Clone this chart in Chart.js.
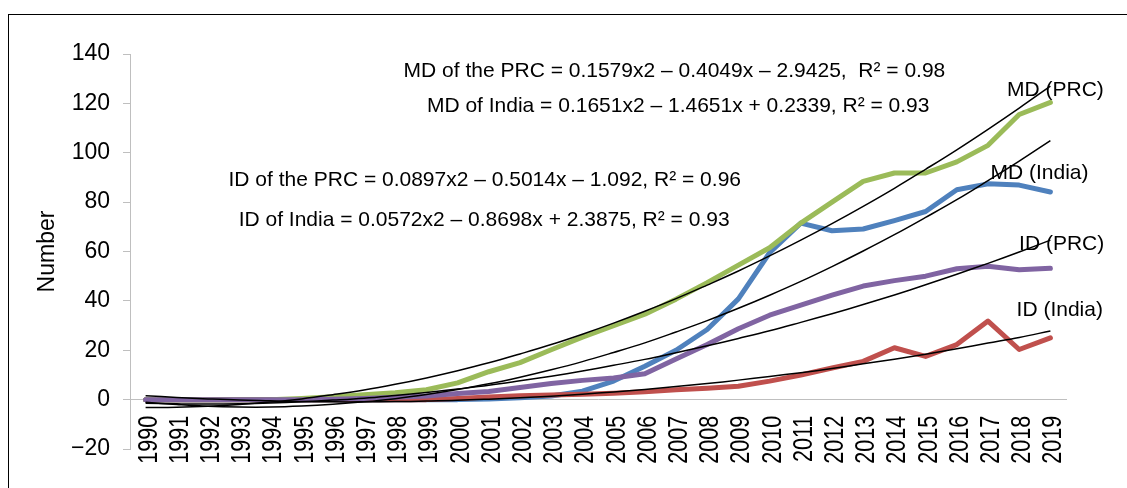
<!DOCTYPE html>
<html>
<head>
<meta charset="utf-8">
<script src="https://cdn.jsdelivr.net/npm/chart.js@4.4.1/dist/chart.umd.min.js"></script>
<style>
  html, body { margin: 0; padding: 0; background: #fff; }
  #frame { position: absolute; left: 8px; top: 14px; width: 1200px; height: 600px; border-top: 1px solid #000; border-left: 1px solid #000; }
  #chart { position: absolute; left: 0; top: 0; }
</style>
</head>
<body>
<div id="frame"></div>
<canvas id="chart" width="1127" height="488"></canvas>
<script>
const years = ["1990","1991","1992","1993","1994","1995","1996","1997","1998","1999",
  "2000","2001","2002","2003","2004","2005","2006","2007","2008","2009",
  "2010","2011","2012","2013","2014","2015","2016","2017","2018","2019"]

// observed series
const mdPrc = [0, 0, 0, 0, 0, 0.5, 1.2, 2, 2.8, 4, 6.8, 11.3, 15, 20.2, 25.3, 30, 34.6, 40.7, 47.4, 54.5,
  61.5, 71.5, 80, 88.4, 91.8, 91.8, 96.3, 103, 115.5, 120.4]
const mdIndia = [0, 0, 0, 0, 0, 0, 0, 0, 0, 0, 0, 0.3, 0.8, 1.5, 3.4, 7.5, 13.5, 20, 28.4, 40.8,
  59.5, 71.5, 68.4, 69.1, 72.5, 76.2, 85, 87.4, 86.9, 84.1]
const idPrc = [0, 0, 0, 0, 0, 0, 0.2, 0.5, 1, 1.5, 2.5, 3.3, 4.9, 6.5, 7.8, 8.8, 10.5, 16.5, 22.3, 28.7,
  34.2, 38.3, 42.3, 46, 48.2, 50, 53, 54, 52.6, 53.2]
const idIndia = [0, 0, 0, 0, 0, 0, 0, 0, 0, 0, 0.5, 1.1, 1.6, 1.9, 2.2, 2.6, 3.2, 4, 4.6, 5.4,
  7.5, 10, 12.8, 15.5, 21, 17.5, 22.3, 31.8, 20.3, 25]

// trendlines as drawn
const mdPrcTrend = [-3.2, -3.1, -2.7, -2.0, -1.0, 0.3, 2.0, 3.9, 6.2, 8.8, 11.7, 14.9, 18.5, 22.3, 26.5,
  31.0, 35.8, 40.9, 46.4, 52.1, 58.2, 64.6, 71.3, 78.3, 85.6, 93.3, 101.2, 109.5, 118.1, 127.0]
const mdIndiaTrend = [-1.1, -2.0, -2.7, -3.0, -3.0, -2.6, -1.9, -0.9, 0.4, 2.1, 4.1, 6.4, 9.1, 12.1, 15.4,
  19.1, 23.0, 27.4, 32.0, 37.0, 42.3, 47.9, 53.9, 60.2, 66.8, 73.8, 81.0, 88.7, 96.6, 104.9]
const idPrcTrend = [-1.5, -1.7, -1.8, -1.7, -1.4, -0.9, -0.2, 0.6, 1.7, 2.9, 4.3, 5.8, 7.6, 9.5, 11.6,
  13.9, 16.3, 19.0, 21.8, 24.8, 27.9, 31.3, 34.8, 38.5, 42.4, 46.5, 50.8, 55.2, 59.8, 64.6]
const idIndiaTrend = [1.6, 0.9, 0.3, -0.2, -0.5, -0.8, -0.9, -0.9, -0.8, -0.6, -0.3, 0.2, 0.8, 1.4, 2.2,
  3.1, 4.1, 5.3, 6.5, 7.9, 9.4, 10.9, 12.6, 14.5, 16.4, 18.4, 20.6, 22.9, 25.2, 27.8]

const yTicks = { min: -20, max: 140, step: 20 }

// text on the plot: [text, category index, y value]
const notes = [
  ["MD of the PRC = 0.1579x2 \u2013 0.4049x \u2013 2.9425,  R\u00b2 = 0.98", 16.95, 133.2],
  ["MD of India = 0.1651x2 \u2013 1.4651x + 0.2339, R\u00b2 = 0.93", 17.07, 119.0],
  ["ID of the PRC = 0.0897x2 \u2013 0.5014x \u2013 1.092, R\u00b2 = 0.96", 10.87, 88.8],
  ["ID of India = 0.0572x2 \u2013 0.8698x + 2.3875, R\u00b2 = 0.93", 10.85, 72.7],
  ["MD (PRC)", 29.16, 125.5],
  ["MD (India)", 28.65, 91.7],
  ["ID (PRC)", 29.36, 62.8],
  ["ID (India)", 29.3, 36.4],
]

const FONT = "'Liberation Sans', Arial, sans-serif"
const AXIS_GREY = "#BFBFBF"

const series = (data, color) => ({
  data, borderColor: color, borderWidth: 5, pointRadius: 0, tension: 0,
  borderJoinStyle: "round", borderCapStyle: "round",
})
const trend = data => ({
  data, borderColor: "#000000", borderWidth: 1.5, pointRadius: 0, tension: 0.4,
})

const notesPlugin = {
  id: "notes",
  afterDatasetsDraw(chart) {
    const {ctx, scales: {x, y}} = chart
    ctx.save()
    ctx.fillStyle = "#000"
    ctx.font = `21px ${FONT}`
    ctx.textAlign = "center"
    ctx.textBaseline = "middle"
    notes.forEach(([text, xi, yv]) => {
      ctx.fillText(text, x.getPixelForValue(xi), y.getPixelForValue(yv))
    })
    ctx.restore()
  }
}

// year labels: rotated and condensed like the original, placed on the x scale's ticks
const yearLabels = {
  id: "yearLabels",
  afterDraw(chart) {
    const {ctx, scales: {x, y}} = chart
    const top = y.getPixelForValue(0) + 16
    ctx.save()
    ctx.fillStyle = "#000"
    ctx.font = `27.5px ${FONT}`
    ctx.textAlign = "right"
    ctx.textBaseline = "alphabetic"
    years.forEach((label, i) => {
      ctx.save()
      ctx.translate(x.getPixelForTick(i) + 11, top)
      ctx.rotate(-Math.PI / 2)
      ctx.scale(0.785, 1)
      ctx.fillText(label, 0, 0)
      ctx.restore()
    })
    ctx.restore()
  }
}

new Chart(document.getElementById("chart"), {
  type: "line",
  data: {
    labels: years,
    datasets: [
      trend(mdPrcTrend),
      trend(mdIndiaTrend),
      trend(idPrcTrend),
      trend(idIndiaTrend),
      series(idPrc, "#8064A2"),
      series(mdPrc, "#9BBB59"),
      series(idIndia, "#C0504D"),
      series(mdIndia, "#4F81BD"),
    ],
  },
  options: {
    responsive: false,
    animation: false,
    layout: { padding: { left: 0, top: 54, right: 61, bottom: 39 } },
    plugins: { legend: { display: false }, tooltip: { enabled: false } },
    scales: {
      x: {
        position: { y: 0 },
        offset: true,
        grid: { display: false, drawTicks: false },
        border: { display: true, color: AXIS_GREY, width: 1 },
        ticks: { display: false, autoSkip: false },
      },
      y: {
        min: yTicks.min,
        max: yTicks.max,
        afterFit: s => { s.width = 130 },
        grid: { drawOnChartArea: false, drawTicks: true, tickLength: 7, color: AXIS_GREY },
        border: { display: true, color: AXIS_GREY, width: 1 },
        ticks: {
          stepSize: yTicks.step, padding: 13, color: "#000",
          font: { family: FONT, size: 23 },
          callback: v => String(v).replace("-", "\u2212"),
        },
        title: {
          display: true, text: "Number", color: "#000",
          font: { family: FONT, size: 23 }, padding: { top: 34, bottom: 0 },
        },
      },
    },
  },
  plugins: [notesPlugin, yearLabels],
})
</script>
</body>
</html>
